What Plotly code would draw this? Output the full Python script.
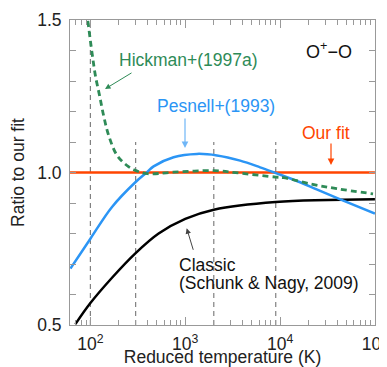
import plotly.graph_objects as go

# ---- data ----
hickman_T = [94, 104, 113, 125, 138, 156, 191, 243, 298, 400, 750, 2000, 4000, 9000, 10840, 20700, 39500, 95500]
hickman_r = [1.497, 1.393, 1.317, 1.252, 1.186, 1.121, 1.056, 1.023, 1.007, 0.996, 1.001, 1.006, 0.997, 0.985, 0.983, 0.963, 0.947, 0.930]

pesnell_T = [61.6, 100, 169, 298, 396, 464, 753, 1328, 2158, 3793, 6158, 9020, 16250, 24300, 46400, 100000]
pesnell_r = [0.685, 0.783, 0.887, 0.968, 1.001, 1.020, 1.050, 1.061, 1.056, 1.039, 1.017, 0.998, 0.968, 0.945, 0.908, 0.865]

classic_T = [69.5, 100, 169, 298, 524, 1000, 2000, 9000, 100000]
classic_r = [0.503, 0.572, 0.655, 0.735, 0.800, 0.848, 0.878, 0.903, 0.912]

ourfit_T = [61, 100000]
ourfit_r = [1.0, 1.0]

ref_T = [100, 300, 2000, 9000]
ref_top = [1.5, 1.1, 1.1, 1.1]
ref_bottom = 0.5

x_major = [100, 1000, 10000, 100000]
x_major_text = ["10<sup>2</sup>", "10<sup>3</sup>", "10<sup>4</sup>", "10<sup>5</sup>"]
x_minor = [60, 70, 80, 90] + [m * 100 for m in range(2, 10)] + [m * 1000 for m in range(2, 10)] + [m * 10000 for m in range(2, 10)]
y_ticks = [0.5, 0.6, 0.7, 0.8, 0.9, 1.0, 1.1, 1.2, 1.3, 1.4, 1.5]
y_text = ["0.5", "", "", "", "", "1.0", "", "", "", "", "1.5"]

GREEN = "#2e8b57"
BLUE = "#2b95f5"
RED = "#ff4500"
FRAME = "#999999"
FONT = "Liberation Sans, Arial, sans-serif"

fig = go.Figure()

for T, top in zip(ref_T, ref_top):
    fig.add_trace(go.Scatter(x=[T, T], y=[ref_bottom, top], mode="lines",
                             line=dict(color="#808080", width=1.2, dash="5px,4px"),
                             showlegend=False, hoverinfo="skip"))

fig.add_trace(go.Scatter(x=classic_T, y=classic_r, mode="lines", line=dict(color="black", width=2.5, shape="spline"),
                         showlegend=False))
fig.add_trace(go.Scatter(x=ourfit_T, y=ourfit_r, mode="lines", line=dict(color=RED, width=2.5),
                         showlegend=False))
fig.add_trace(go.Scatter(x=pesnell_T, y=pesnell_r, mode="lines", line=dict(color=BLUE, width=2.5, shape="spline"),
                         showlegend=False))
fig.add_trace(go.Scatter(x=hickman_T, y=hickman_r, mode="lines",
                         line=dict(color=GREEN, width=2.8, dash="6px,4px", shape="spline"),
                         showlegend=False))

# page body has an 8px default margin, so the figure is shifted by (8, 8)
OFF = 8
W, H = 387 - OFF, 367 - OFF
L, R, T_, B = 70 - OFF, 12, 20 - OFF, 42
pw, ph = W - L - R, H - T_ - B


def px(xp):
    return (xp - OFF - L) / pw


def py(yp):
    return (H - B - (yp - OFF)) / ph


annots = []


def text(s, x, y, color, xanchor="center", size=17.5):
    annots.append(dict(text=s, x=px(x), y=py(y), xref="paper", yref="paper", showarrow=False,
                       xanchor=xanchor, yanchor="middle", font=dict(color=color, size=size, family=FONT)))


def arrow(x, y, ax, ay, color, width=1.2):
    annots.append(dict(text="", x=px(x), y=py(y), xref="paper", yref="paper", showarrow=True,
                       ax=ax, ay=ay, arrowhead=2, arrowsize=1.1, arrowwidth=width, arrowcolor=color))


text("Hickman+(1997a)", 188.5, 60, GREEN)
text("Pesnell+(1993)", 216, 106, BLUE)
text("Our fit", 326, 133, RED)
text("Classic", 177, 265, "#111111", xanchor="left")
text("(Schunk &amp; Nagy, 2009)", 177, 283, "#111111", xanchor="left")
text("O<sup>+</sup>\u2212O", 329, 51, "#111111", size=18)

arrow(105, 89, 28, -17, GREEN, 1.0)
arrow(185, 148, 0, -31, "#6fb6f7", 1.2)
arrow(331, 165, 0, -23, RED, 1.2)
arrow(186.7, 228.3, 7, 23, "#444444", 1.0)

fig.update_layout(
    width=W, height=H,
    margin=dict(l=L, r=R, t=T_, b=B),
    paper_bgcolor="white", plot_bgcolor="white",
    font=dict(family=FONT, size=17, color="#222222"),
    annotations=annots,
    xaxis=dict(type="log", range=[1.785, 5.0008], showgrid=False, zeroline=False, automargin=False,
               showline=True, linecolor=FRAME, linewidth=1, mirror="ticks",
               ticks="inside", ticklen=8, tickcolor=FRAME, tickwidth=1,
               tickvals=x_major, ticktext=x_major_text, tickfont=dict(size=17.5),
               ticklabeloverflow="allow", ticklabelstandoff=3,
               minor=dict(tickvals=x_minor, ticks="inside", ticklen=5, tickcolor=FRAME, tickwidth=1, showgrid=False),
               title=dict(text="Reduced temperature (K)", font=dict(size=17.5), standoff=4)),
    yaxis=dict(range=[0.5, 1.5], showgrid=False, zeroline=False, automargin=False,
               showline=True, linecolor=FRAME, linewidth=1, mirror="ticks",
               ticks="inside", ticklen=6, tickcolor=FRAME, tickwidth=1,
               tickvals=y_ticks, ticktext=y_text, tickfont=dict(size=17.5),
               ticklabelstandoff=4,
               title=dict(text="Ratio to our fit", font=dict(size=17.5), standoff=10)),
)

fig.write_html("out.html")
